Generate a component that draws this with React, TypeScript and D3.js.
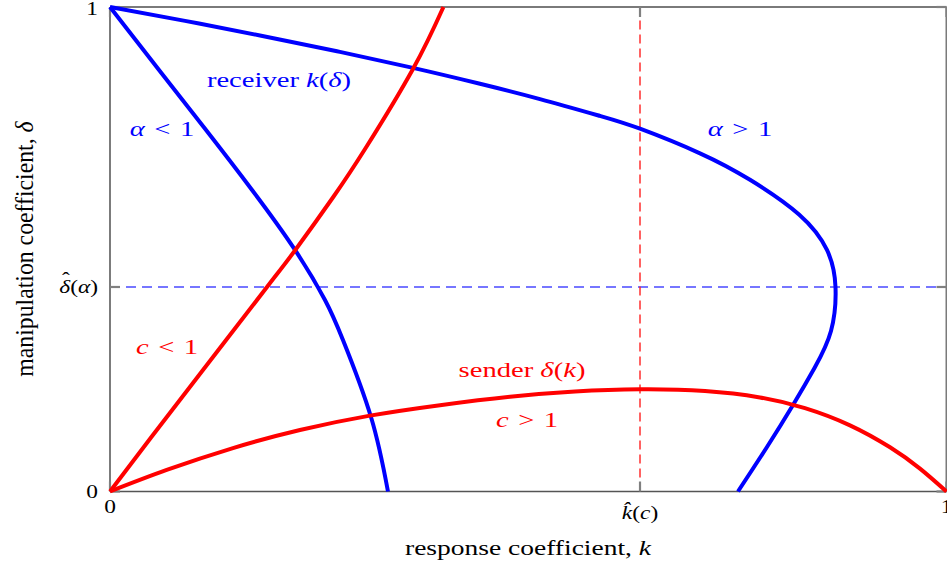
import React from "react";
import * as d3 from "d3";

// ---- data: points as [k, delta] ----
const receiverAlphaLess: [number, number][] = [
  [0, 1], [0.0586, 0.870], [0.1148, 0.746], [0.1698, 0.6223], [0.2212, 0.4985],
  [0.257, 0.3953], [0.2785, 0.3127], [0.312, 0.1538], [0.3323, 0],
];
const receiverAlphaGreater: [number, number][] = [
  [0, 1], [0.0897, 0.9713], [0.1793, 0.9412], [0.2714, 0.9086], [0.3622, 0.8743],
  [0.4423, 0.8415], [0.514, 0.8099], [0.5858, 0.7752], [0.6336, 0.7488],
  [0.7053, 0.698], [0.7651, 0.6433], [0.8237, 0.5717], [0.8571, 0.4985],
  [0.8673, 0.4221], [0.8619, 0.3313], [0.8422, 0.255], [0.8165, 0.1785],
  [0.7854, 0.0918], [0.7507, 0],
];
const senderCLess: [number, number][] = [
  [0, 0], [0.0495, 0.1125], [0.1084, 0.2446], [0.1877, 0.4221], [0.2224, 0.5005],
  [0.2669, 0.6078], [0.3064, 0.711], [0.3622, 0.872], [0.3986, 1],
];
const senderCGreater: [number, number][] = [
  [0, 0], [0.0678, 0.0444], [0.147, 0.0896], [0.2271, 0.1269], [0.3108, 0.1566],
  [0.3945, 0.1782], [0.4782, 0.1956], [0.5559, 0.2064], [0.6336, 0.2109],
  [0.7113, 0.2074], [0.777, 0.1941], [0.8308, 0.1721], [0.8846, 0.1366],
  [0.9325, 0.0912], [0.9683, 0.0473], [1, 0],
];
const kHat = 0.6336;
const deltaHat = 0.4221;

const xTickValues = [0, kHat, 1];
const yTickValues = [0, deltaHat, 1];

const W = 947;
const H = 565;
const L = 110, R = 946.5, T = 7, B = 491.5;
const FONT = "'Liberation Serif', 'Times New Roman', serif";
const BLUE = "#0000ff";
const RED = "#ff0000";
const SP = "\u2004";

type TProps = {
  x: number; y: number; sx: number; size: number; anchor?: string; fill?: string;
  children: React.ReactNode;
};
function SText({ x, y, sx, size, anchor = "middle", fill = "#000", children }: TProps) {
  return (
    <g transform={`translate(${x},${y}) scale(${sx},1)`}>
      <text x={0} y={0} textAnchor={anchor} fontSize={size} fontFamily={FONT} fill={fill}>
        {children}
      </text>
    </g>
  );
}
const I = ({ children }: { children: React.ReactNode }) => <tspan fontStyle="italic">{children}</tspan>;

export default function App() {
  const x = d3.scaleLinear().domain([0, 1]).range([L, R]);
  const y = d3.scaleLinear().domain([0, 1]).range([B, T]);
  const line = d3
    .line<[number, number]>()
    .x((d) => x(d[0]))
    .y((d) => y(d[1]))
    .curve(d3.curveNatural);

  const tickLen = 10;
  const tickFs = 18, tickSx = 1.3;
  const annFs = 22, annSx = 1.3;

  return (
    <svg width={W} height={H} style={{ position: "absolute", left: 0, top: 0, background: "#fff" }}>
      {/* dashed reference lines */}
      <line x1={L} x2={R} y1={y(deltaHat)} y2={y(deltaHat)} stroke="#4a4aff" strokeWidth={1.4} strokeDasharray="10,6" />
      <line x1={x(kHat)} x2={x(kHat)} y1={B} y2={T} stroke="#ff2020" strokeWidth={1.4} strokeDasharray="9,5" />

      {/* frame */}
      <line x1={L} x2={R} y1={T} y2={T} stroke="#7a7a7a" strokeWidth={2} />
      <line x1={R} x2={R} y1={T} y2={B} stroke="#7a7a7a" strokeWidth={2} />
      <line x1={L} x2={L} y1={T} y2={B} stroke="#444" strokeWidth={1.4} />
      <line x1={L} x2={R} y1={B} y2={B} stroke="#555" strokeWidth={1.6} />

      {/* ticks */}
      {xTickValues.map((v) => (
        <g key={"xt" + v}>
          <line x1={x(v)} x2={x(v)} y1={B} y2={B - tickLen} stroke="#808080" strokeWidth={2.2} />
          <line x1={x(v)} x2={x(v)} y1={T} y2={T + tickLen} stroke="#808080" strokeWidth={2.2} />
        </g>
      ))}
      {yTickValues.map((v) => (
        <g key={"yt" + v}>
          <line x1={L} x2={L + tickLen} y1={y(v)} y2={y(v)} stroke="#808080" strokeWidth={2.2} />
          <line x1={R} x2={R - tickLen} y1={y(v)} y2={y(v)} stroke="#808080" strokeWidth={2.2} />
        </g>
      ))}

      {/* curves */}
      <path d={line(receiverAlphaLess) || ""} fill="none" stroke={BLUE} strokeWidth={4} />
      <path d={line(receiverAlphaGreater) || ""} fill="none" stroke={BLUE} strokeWidth={4} />
      <path d={line(senderCLess) || ""} fill="none" stroke={RED} strokeWidth={4} />
      <path d={line(senderCGreater) || ""} fill="none" stroke={RED} strokeWidth={4} />

      {/* x tick labels */}
      <SText x={x(0)} y={513} sx={tickSx} size={tickFs}>0</SText>
      <SText x={x(kHat)} y={519} sx={tickSx} size={tickFs}>
        <I>k̂</I>(<I>c</I>)
      </SText>
      <SText x={x(1)} y={513} sx={tickSx} size={tickFs}>1</SText>

      {/* y tick labels */}
      <SText x={98} y={y(0) + 6.5} sx={tickSx} size={tickFs} anchor="end">0</SText>
      <SText x={98} y={y(deltaHat) + 6} sx={tickSx} size={tickFs} anchor="end">
        <I>δ</I>(<I>α</I>)
      </SText>
      <SText x={66} y={y(deltaHat) - 2} sx={tickSx} size={tickFs}>ˆ</SText>
      <SText x={98} y={y(1) + 7.5} sx={tickSx} size={tickFs} anchor="end">1</SText>

      {/* annotations */}
      <SText x={279} y={87} sx={annSx} size={annFs} fill={BLUE}>
        receiver <I>k</I>(<I>δ</I>)
      </SText>
      <SText x={162} y={136} sx={annSx} size={annFs} fill={BLUE}>
        <I>α</I>{SP}&lt;{SP}1
      </SText>
      <SText x={740} y={136} sx={annSx} size={annFs} fill={BLUE}>
        <I>α</I>{SP}&gt;{SP}1
      </SText>
      <SText x={167} y={354} sx={annSx} size={annFs} fill={RED}>
        <I>c</I>{SP}&lt;{SP}1
      </SText>
      <SText x={522} y={377} sx={annSx} size={annFs} fill={RED}>
        sender <I>δ</I>(<I>k</I>)
      </SText>
      <SText x={527} y={427} sx={annSx} size={annFs} fill={RED}>
        <I>c</I>{SP}&gt;{SP}1
      </SText>

      {/* axis titles */}
      <SText x={528} y={555} sx={1.25} size={22}>
        response coefficient, <I>k</I>
      </SText>
      <g transform={`translate(33, 249) rotate(-90) scale(1.08, 1.15)`}>
        <text x={0} y={0} textAnchor="middle" fontSize={22} fontFamily={FONT}>
          manipulation coefficient, <I>δ</I>
        </text>
      </g>
    </svg>
  );
}
